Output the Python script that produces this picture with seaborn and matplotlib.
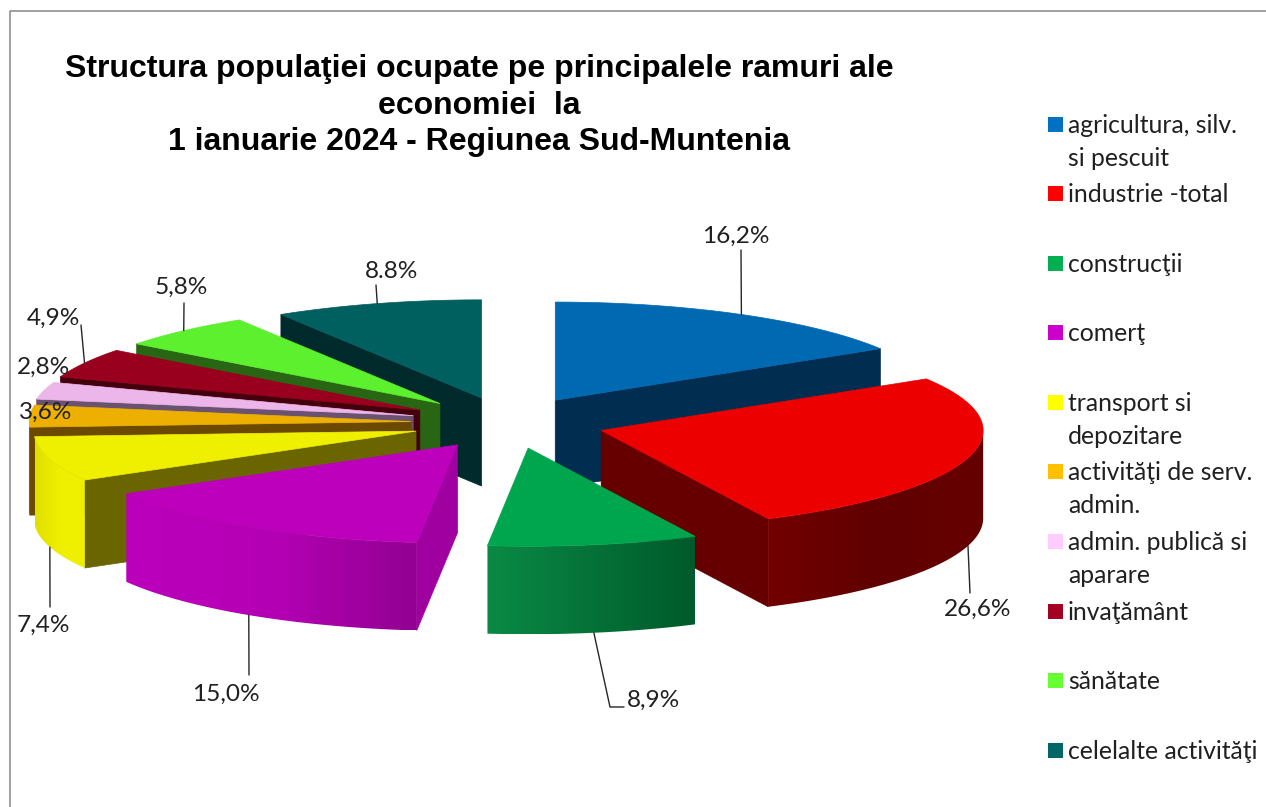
import numpy as np
import matplotlib
matplotlib.use("Agg")
import matplotlib.pyplot as plt
from matplotlib.patches import Polygon, Rectangle
import seaborn as sns

# data
categories = ["agricultura, silv.\nsi pescuit", "industrie -total", "construcţii", "comerţ",
              "transport si\ndepozitare", "activităţi de serv.\nadmin.", "admin. publică si\naparare",
              "invaţământ", "sănătate", "celelalte activităţi"]
values = [16.2, 26.6, 8.9, 15.0, 7.4, 3.6, 2.8, 4.9, 5.8, 8.8]
value_labels = ["16,2%", "26,6%", "8,9%", "15,0%", "7,4%", "3,6%", "2,8%", "4,9%", "5,8%", "8.8%"]

legend_colors = ["#0070C0", "#FF0000", "#00B050", "#CC00CC", "#FFFF00",
                 "#FFC000", "#FFCCFF", "#A50021", "#66FF33", "#006666"]
top_colors = ["#0069B2", "#EC0000", "#00A64D", "#BC00BC", "#EFEF00",
              "#EDB000", "#EDB6EA", "#98001E", "#5CF02E", "#005F5F"]
face_colors = ["#002D50", "#660000", "#00702F", "#A000A0", "#6B6500",
               "#6B4A00", "#6B5270", "#45000E", "#296614", "#002A2C"]
# left to right along the rim
rim_colors = [["#002D50", "#002D50"], ["#720000", "#600000", "#660000"], ["#0A8A45", "#005A2B"],
              ["#BC00BC", "#B400B4", "#920092"], ["#E0E000", "#EFEF00", "#EFEF00"],
              ["#6B4A00", "#6B4A00"], ["#6B5270", "#6B5270"], ["#45000E", "#45000E"],
              ["#296614", "#296614"], ["#002A2C", "#002A2C"]]

# layout, in pixels
cx, cy = 508, 422
radius = 382
squash = 0.257
explode = 97
depth = 88
# the original has some perspective, small shifts per slice make up for it
nudge_x = [0, 0, 3.5, 2.5, 1, 0, -1, -3, -3, 0]
nudge_y = [0, 1.5, 1.5, 2, 2, 1, 0, 0, 0, 0]

sns.set_theme(style="white")
fig = plt.figure(figsize=(12.66, 8.07), dpi=100)
ax = fig.add_axes([0, 0, 1, 1])
ax.axis("off")


def project(ax0, ay0, theta, r=radius):
    return ax0 + r * np.sin(theta), ay0 - squash * r * np.cos(theta)


edges = np.deg2rad(np.concatenate([[0], np.cumsum(values)]) * 3.6)
mids = (edges[:-1] + edges[1:]) / 2
apex_x = cx + explode * np.sin(mids) + np.array(nudge_x)
apex_y = cy - squash * explode * np.cos(mids) + np.array(nudge_y)

# painter's order, the slices furthest back first
z = 1
for i in np.argsort(-np.cos(mids)):
    t1, t2 = edges[i], edges[i + 1]
    px, py = apex_x[i], apex_y[i]

    # flat cut faces
    for t, visible in [(t1, np.sin(t1) < 0), (t2, np.sin(t2) > 0)]:
        if visible:
            x, y = project(px, py, t)
            ax.add_patch(Polygon([(px, py), (x, y), (x, y + depth), (px, py + depth)],
                                 fc=face_colors[i], ec=face_colors[i], lw=0.5, zorder=z))
            z += 1

    # curved rim, only the part that faces the viewer
    lo, hi = max(t1, np.pi / 2), min(t2, 3 * np.pi / 2)
    if hi > lo:
        steps = np.linspace(hi, lo, 60)
        xs, ys = project(px, py, steps)
        rim = np.vstack([np.column_stack([xs, ys]), np.column_stack([xs, ys + depth])[::-1]])
        shades = np.array(sns.blend_palette(rim_colors[i], n_colors=120))[:, :3]
        im = ax.imshow(shades[np.newaxis, :, :], extent=(xs.min(), xs.max(), ys.max() + depth, ys.min()),
                       aspect="auto", interpolation="bilinear", zorder=z)
        im.set_clip_path(Polygon(rim, transform=ax.transData))
        z += 1

    # top
    arc = np.linspace(t1, t2, 80)
    xs, ys = project(px, py, arc)
    ax.add_patch(Polygon(np.vstack([[px, py], np.column_stack([xs, ys])]),
                         fc=top_colors[i], ec=top_colors[i], lw=0.5, zorder=z))
    z += 1

ax.set_xlim(0, 1266)
ax.set_ylim(807, 0)

# leader lines start on the rim of their slice
leader_ends = [[(741, 250)], [(970, 593)], [(610, 707), (624, 707)], [(249, 675)], [(50, 607)],
               None, None, [(81, 325)], [(184, 303)], [(376, 285)]]
label_pos = [(736, 236.5), (978, 609.5), (653, 700.5), (226, 694.5), (43, 625.5),
             (46, 412.5), (43, 367.5), (53, 318.5), (181, 287.5), (392, 271.5)]

for i, label in enumerate(value_labels):
    if leader_ends[i] is not None:
        x0, y0 = project(apex_x[i], apex_y[i], mids[i])
        if np.cos(mids[i]) < 0:
            y0 += depth
        pts = [(x0, y0)] + leader_ends[i]
        ax.plot([p[0] for p in pts], [p[1] for p in pts], color="#262626", lw=1.0, zorder=200)
    ax.text(label_pos[i][0], label_pos[i][1], label, fontsize=17.6, family="Lato", color="#202020",
            ha="center", va="center", zorder=201)

# title
ax.text(479, 105.5, "Structura populaţiei ocupate pe principalele ramuri ale\neconomiei  la\n"
        "1 ianuarie 2024 - Regiunea Sud-Muntenia", family="Liberation Sans", fontweight="bold",
        fontsize=23, color="black", ha="center", va="center", linespacing=1.3)

# legend
legend_y = [124, 193, 263, 332, 402, 471, 541, 611, 680, 750]
for name, col, y in zip(categories, legend_colors, legend_y):
    ax.add_patch(Rectangle((1048, y - 7.5), 14.5, 15, fc=col, ec="none"))
    ax.text(1068, y - 10, name, family="Lato", fontsize=17.8, color="#202020",
            ha="left", va="top", linespacing=1.54)

# chart frame, only top and left show in the crop
ax.plot([9.5, 9.5, 1266], [807, 10.5, 10.5], color="#909090", lw=1.2)

plt.savefig("out.png", dpi=100)
